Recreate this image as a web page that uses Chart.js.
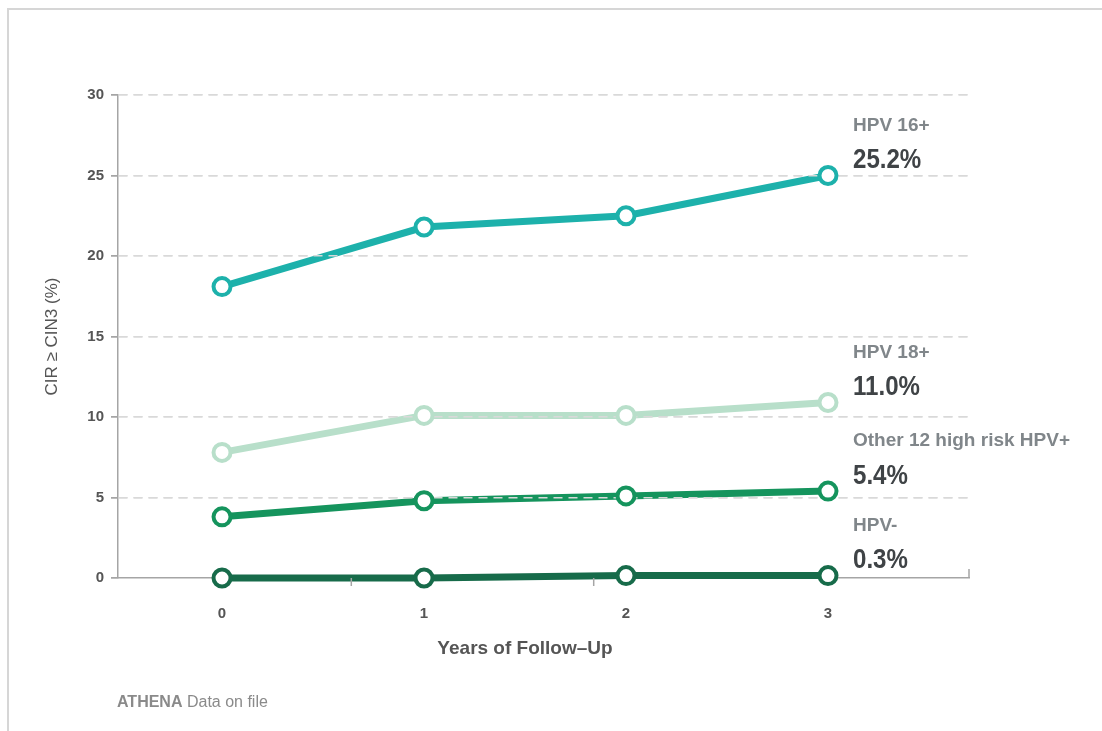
<!DOCTYPE html>
<html>
<head>
<meta charset="utf-8">
<script src="https://cdn.jsdelivr.net/npm/chart.js@4/dist/chart.umd.min.js"></script>
<style>
  html, body { margin: 0; padding: 0; background: #fff; overflow: hidden; }
  #frame { position: absolute; left: 7px; top: 8px; width: 1200px; height: 800px;
           border-top: 2px solid #d6d6d6; border-left: 2px solid #d6d6d6; }
  #chart { position: absolute; left: 0; top: 0; }
</style>
</head>
<body>
<div id="frame"></div>
<canvas id="chart" width="1102" height="731"></canvas>
<script>
// years of follow-up
const years = [0, 1, 2, 3];

// cumulative incidence of >= CIN3 (%)
const hpv16 = [18.1, 21.8, 22.5, 25.0];
const hpv18 = [7.8, 10.1, 10.1, 10.9];
const other12 = [3.8, 4.8, 5.1, 5.4];
const hpvNeg = [0, 0, 0.15, 0.15];

const seriesNames = ['HPV 16+', 'HPV 18+', 'Other 12 high risk HPV+', 'HPV-'];
const endLabels = ['25.2%', '11.0%', '5.4%', '0.3%'];
const seriesColors = ['#1db1ab', '#b8dfca', '#15945d', '#176b4a'];

// little marks hanging under the x axis
const xMinorTicks = [0.64, 1.84];

const allSeries = [hpv16, hpv18, other12, hpvNeg];
const toPoints = vals => vals.map((v, i) => ({ x: years[i], y: v }));

const lineSets = allSeries.map((vals, i) => ({
    label: seriesNames[i],
    data: toPoints(vals),
    borderColor: seriesColors[i],
    borderWidth: 7,
    pointRadius: 0,
    tension: 0,
    clip: false,
    order: 2,
}));

const pointSets = allSeries.map((vals, i) => ({
    label: seriesNames[i] + ' points',
    data: toPoints(vals),
    showLine: false,
    pointRadius: 8.5,
    pointBorderWidth: 4,
    pointBorderColor: seriesColors[i],
    pointBackgroundColor: '#ffffff',
    clip: false,
    order: 1,
}));

// grid goes over the lines but under the circles
let gridRedrawn = false;
const gridOverLines = {
    id: 'gridOverLines',
    beforeDatasetsDraw() { gridRedrawn = false; },
    beforeDatasetDraw(chart, args) {
        const ds = chart.data.datasets[args.index];
        if (!gridRedrawn && ds.showLine === false) {
            chart.scales.y.drawGrid(chart.chartArea);
            gridRedrawn = true;
        }
    }
};

const extras = {
    id: 'extras',
    afterDraw(chart) {
        const { ctx, chartArea } = chart;
        const xs = chart.scales.x, ys = chart.scales.y;

        // axis tick marks
        ctx.save();
        ctx.strokeStyle = '#a5a5a5';
        ctx.lineWidth = 1.5;
        xMinorTicks.forEach(v => {
            const px = xs.getPixelForValue(v);
            ctx.beginPath();
            ctx.moveTo(px, chartArea.bottom);
            ctx.lineTo(px, chartArea.bottom + 8);
            ctx.stroke();
        });
        ctx.beginPath();
        ctx.moveTo(chartArea.right, chartArea.bottom);
        ctx.lineTo(chartArea.right, chartArea.bottom - 9);
        ctx.stroke();
        ctx.restore();

        // x axis title, sits a bit left of the axis centre
        ctx.save();
        ctx.textAlign = 'center';
        ctx.textBaseline = 'middle';
        ctx.fillStyle = '#555';
        ctx.font = 'bold 19px "Liberation Sans", Arial, sans-serif';
        ctx.fillText('Years of Follow\u2013Up', 525, 649);
        ctx.restore();

        // end labels
        const lx = xs.getPixelForValue(years[years.length - 1]) + 25;
        allSeries.forEach((vals, i) => {
            const py = ys.getPixelForValue(vals[vals.length - 1]);
            ctx.save();
            ctx.textAlign = 'left';
            ctx.textBaseline = 'middle';
            ctx.fillStyle = '#80868a';
            ctx.font = 'bold 19px "Liberation Sans", Arial, sans-serif';
            ctx.fillText(seriesNames[i], lx, py - 50);
            // the percentages are set in a narrow face
            ctx.fillStyle = '#3f4346';
            ctx.font = 'bold 28px "Liberation Sans", Arial, sans-serif';
            ctx.translate(lx, py - 15);
            ctx.scale(0.86, 1);
            ctx.fillText(endLabels[i], 0, 0);
            ctx.restore();
        });

        // source note
        ctx.save();
        ctx.textAlign = 'left';
        ctx.textBaseline = 'middle';
        ctx.fillStyle = '#8a8a8a';
        ctx.font = 'bold 16px "Liberation Sans", Arial, sans-serif';
        ctx.fillText('ATHENA', 117, 703);
        const w = ctx.measureText('ATHENA ').width;
        ctx.font = '16px "Liberation Sans", Arial, sans-serif';
        ctx.fillText('Data on file', 117 + w, 703);
        ctx.restore();
    }
};

new Chart(document.getElementById('chart'), {
    type: 'line',
    data: { datasets: [...lineSets, ...pointSets] },
    options: {
        responsive: false,
        animation: false,
        layout: { padding: { left: 0, top: 95, right: 133, bottom: 0 } },
        plugins: {
            legend: { display: false },
            tooltip: { enabled: false }
        },
        scales: {
            x: {
                type: 'linear',
                min: -0.515,
                max: 3.698,
                afterBuildTicks: s => { s.ticks = years.map(v => ({ value: v })); },
                afterFit: s => { s.height = 153; },
                grid: { display: false, drawTicks: false },
                border: { display: true, color: '#a5a5a5', width: 1.5 },
                ticks: {
                    color: '#555',
                    font: { family: '"Liberation Sans", Arial, sans-serif', size: 15, weight: 'bold' },
                    padding: 27,
                    maxRotation: 0,
                    callback: v => String(v)
                }
            },
            y: {
                min: 0,
                max: 30,
                afterFit: s => { s.width = 118; },
                ticks: {
                    stepSize: 5,
                    color: '#555',
                    font: { family: '"Liberation Sans", Arial, sans-serif', size: 15, weight: 'bold' },
                    padding: 7
                },
                grid: {
                    color: c => (c.tick && c.tick.value === 0) ? 'rgba(0,0,0,0)' : '#d9d9d9',
                    lineWidth: 1.5,
                    tickColor: '#a5a5a5',
                    tickLength: 7,
                    tickWidth: 1.5
                },
                border: { display: true, color: '#a5a5a5', width: 1.5, dash: [9, 6] },
                title: {
                    display: true,
                    text: 'CIR \u2265 CIN3 (%)',
                    color: '#555',
                    font: { family: '"Liberation Sans", Arial, sans-serif', size: 17 },
                    padding: { top: 42, bottom: 0 }
                }
            }
        }
    },
    plugins: [gridOverLines, extras]
});
</script>
</body>
</html>
